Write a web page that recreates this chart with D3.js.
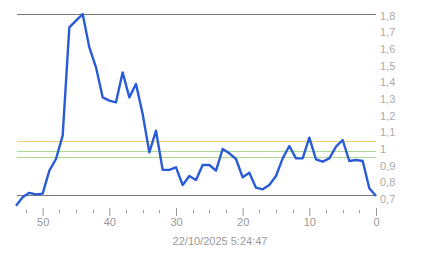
<!DOCTYPE html>
<html>
<head>
<meta charset="utf-8">
<script src="https://cdn.jsdelivr.net/npm/d3@7"></script>
<style>
  body { margin: 0; background: #fff; }
  svg { display: block; font-family: Arial, "Liberation Sans", sans-serif; }
</style>
</head>
<body>
<div id="chart"></div>
<script>
// minutes ago, 54 .. 0
var ago = [54, 53, 52, 51, 50, 49, 48, 47, 46, 45, 44, 43, 42, 41, 40, 39, 38, 37, 36, 35,
  34, 33, 32, 31, 30, 29, 28, 27, 26, 25, 24, 23, 22, 21, 20, 19, 18, 17, 16, 15,
  14, 13, 12, 11, 10, 9, 8, 7, 6, 5, 4, 3, 2, 1, 0];
var values = [0.66, 0.71, 0.737, 0.728, 0.732, 0.87, 0.94, 1.08, 1.73, 1.77, 1.81, 1.61, 1.49, 1.31, 1.29, 1.28, 1.46, 1.31, 1.39, 1.21,
  0.98, 1.11, 0.875, 0.875, 0.89, 0.784, 0.838, 0.814, 0.904, 0.904, 0.87, 1.0, 0.974, 0.94, 0.83, 0.858, 0.768, 0.758, 0.784, 0.838,
  0.944, 1.018, 0.944, 0.944, 1.068, 0.938, 0.924, 0.944, 1.014, 1.054, 0.928, 0.934, 0.928, 0.764, 0.718];

var yTicks = [0.7, 0.8, 0.9, 1, 1.1, 1.2, 1.3, 1.4, 1.5, 1.6, 1.7, 1.8];
var xTicks = [50, 40, 30, 20, 10, 0];
var xMinor = [52.5, 47.5, 45, 42.5, 37.5, 35, 32.5, 27.5, 25, 22.5, 17.5, 15, 12.5, 7.5, 5, 2.5];
var refVals = [1.808, 0.722, 1.048, 0.986, 0.952];
var refColors = ['#7a7a7a', '#7a7a7a', '#efcf6a', '#a9dc92', '#a9dc92'];
var stamp = '22/10/2025 5:24:47';

var w = 443, h = 258;
var svg = d3.select('#chart').append('svg').attr('width', w).attr('height', h);

var x = d3.scaleLinear().domain([54, 0]).range([16, 376]);
var y = d3.scaleLinear().domain([0.7, 1.8]).range([199, 15.7]);

// reference lines
refVals.forEach(function(v, i) {
  svg.append('line')
    .attr('x1', 17).attr('x2', 376)
    .attr('y1', Math.round(y(v)) + 0.5)
    .attr('y2', Math.round(y(v)) + 0.5)
    .style('stroke', refColors[i])
    .attr('stroke-width', i < 2 ? 1.4 : 1.2)
    .attr('shape-rendering', 'crispEdges');
});

// y labels on right
svg.selectAll('text.yl')
  .data(yTicks)
  .enter()
  .append('text')
  .attr('x', 380)
  .attr('y', function(d) { return y(d); })
  .attr('dy', '0.36em')
  .attr('font-size', 11)
  .attr('fill', '#aaaaaa')
  .text(function(d) { return String(d).replace('.', ','); });

// x axis ticks
var xAxis = d3.axisBottom(x).tickValues(xTicks).tickSize(8).tickFormat(d3.format('d'));
var gx = svg.append('g').attr('transform', 'translate(0,208)').call(xAxis);
gx.select('.domain').remove();
gx.selectAll('line').attr('stroke', '#999');
gx.selectAll('text').attr('fill', '#999').attr('font-size', 11).attr('dy', '0.6em');

svg.selectAll('line.minor')
  .data(xMinor)
  .enter()
  .append('line')
  .attr('x1', function(d) { return Math.round(x(d)) + 0.5; })
  .attr('x2', function(d) { return Math.round(x(d)) + 0.5; })
  .attr('y1', 210).attr('y2', 213)
  .attr('stroke', '#999');

svg.append('text')
  .attr('x', 220).attr('y', 245)
  .attr('text-anchor', 'middle')
  .attr('font-size', 11)
  .attr('fill', '#999')
  .text(stamp);

// data line
var line = d3.line()
  .x(function(d, i) { return x(ago[i]); })
  .y(function(d) { return y(d); });

svg.append('path')
  .datum(values)
  .attr('d', line)
  .attr('fill', 'none')
  .attr('stroke', '#2a5bd7')
  .attr('stroke-width', 2.4)
  .attr('stroke-linejoin', 'round');
</script>
</body>
</html>
